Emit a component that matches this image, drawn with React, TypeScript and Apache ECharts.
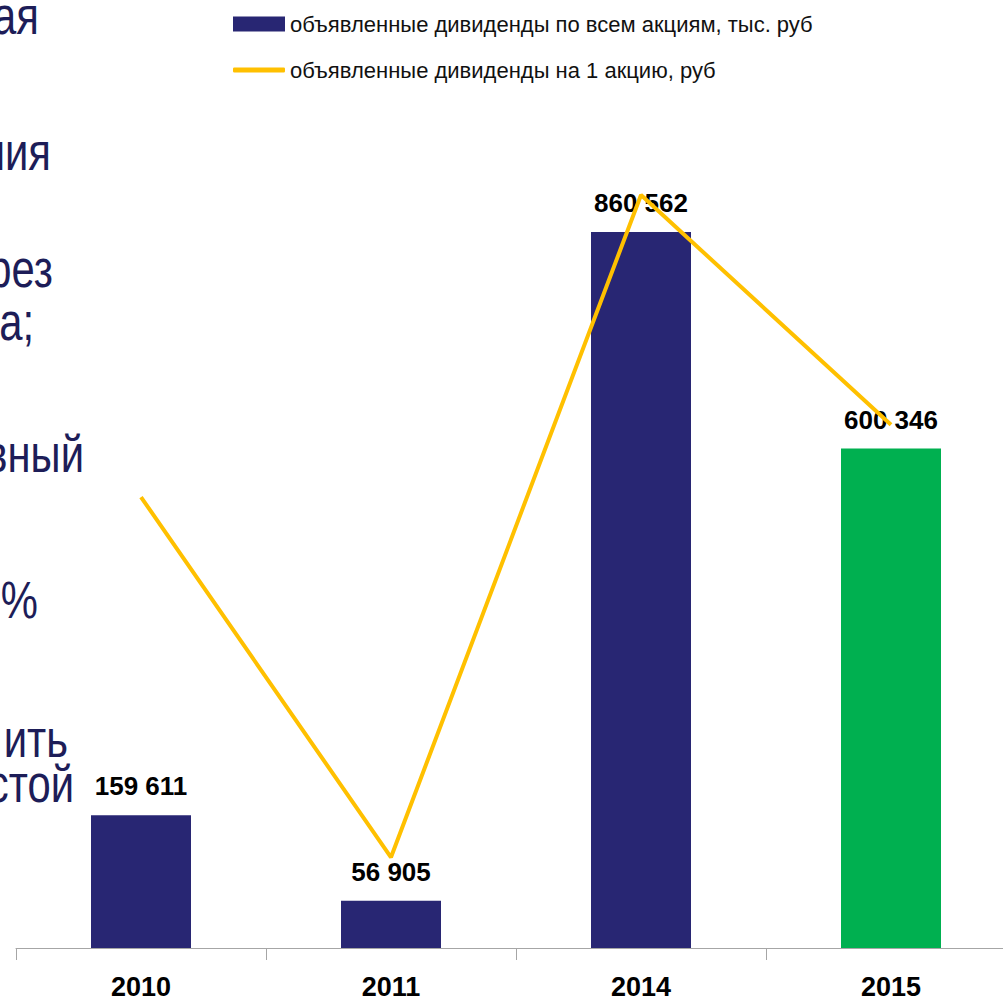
import React, { useEffect, useRef } from "react";
import * as echarts from "echarts";

const categories = ["2010", "2011", "2014", "2015"];
const totalDividends = [159611, 56905, 860562, 600346];
const perShareDividends = [5.42, 1.09, 9.05, 6.29];
const seriesNames = [
  "объявленные дивиденды по всем акциям, тыс. руб",
  "объявленные дивиденды на 1 акцию, руб",
];
const sideTexts = ["ая", "ния", "рез", "а;", "вный", "%", "ить", "стой"];

const FONT = '"Liberation Sans", Arial, sans-serif';
const sideLayout = [
  { right: 39, base: 34 },
  { right: 51, base: 170 },
  { right: 53, base: 287 },
  { right: 34, base: 340 },
  { right: 84, base: 472 },
  { right: 38, base: 618 },
  { right: 68, base: 757 },
  { right: 74, base: 802 },
];

const fmt = (v: number) => String(v).replace(/\B(?=(\d{3})+(?!\d))/g, " ");

export default function App() {
  const ref = useRef<HTMLDivElement>(null);
  useEffect(() => {
    if (!ref.current) return;
    const chart = echarts.init(ref.current, null, { renderer: "svg" });
    const navy = "#282673";
    const green = "#00B050";
    chart.setOption({
      animation: false,
      backgroundColor: "#ffffff",
      legend: [
        {
          data: [seriesNames[0]],
          left: 228,
          top: 8,
          itemWidth: 52,
          itemHeight: 15,
          icon: "rect",
          textStyle: { fontFamily: FONT, fontSize: 22, color: "#111" },
          selectedMode: false,
        },
        {
          data: [seriesNames[1]],
          left: 228,
          top: 54,
          itemWidth: 52,
          itemHeight: 5,
          icon: "roundRect",
          textStyle: { fontFamily: FONT, fontSize: 22, color: "#111" },
          selectedMode: false,
        },
      ],
      grid: { left: 16, right: 0, top: 116, bottom: 52 },
      xAxis: {
        type: "category",
        data: categories,
        axisLine: { lineStyle: { color: "#a6a6a6", width: 1 } },
        axisTick: { show: true, length: 12, lineStyle: { color: "#a6a6a6" } },
        axisLabel: {
          margin: 25,
          fontFamily: FONT,
          fontWeight: "bold",
          fontSize: 27,
          color: "#000",
        },
      },
      yAxis: [
        { type: "value", min: 0, max: 1000000, show: false, splitLine: { show: false } },
        { type: "value", min: 0, max: 10, show: false, splitLine: { show: false } },
      ],
      series: [
        {
          name: seriesNames[0],
          type: "bar",
          barWidth: 100,
          color: navy,
          data: totalDividends.map((v, i) => ({
            value: v,
            itemStyle: { color: i === 3 ? green : navy },
          })),
          label: {
            show: true,
            position: "top",
            distance: 16,
            fontFamily: FONT,
            fontWeight: "bold",
            fontSize: 26,
            color: "#000",
            formatter: (p: any) => fmt(p.value),
          },
        },
        {
          name: seriesNames[1],
          type: "line",
          yAxisIndex: 1,
          color: "#FFC000",
          symbol: "none",
          lineStyle: { width: 4, color: "#FFC000" },
          data: perShareDividends,
          z: 5,
        },
      ],
      graphic: sideTexts.map((t, i) => ({
        type: "text",
        x: sideLayout[i].right,
        y: sideLayout[i].base - 17,
        scaleX: 0.82,
        silent: true,
        style: {
          text: t,
          fill: "#1d1d58",
          font: `51px ${FONT}`,
          textAlign: "right",
          textVerticalAlign: "middle",
        },
      })),
    });
    return () => chart.dispose();
  }, []);
  return (
    <div style={{ position: "fixed", left: 0, top: 0, width: 1003, height: 1000, overflow: "hidden", background: "#fff" }}>
      <div ref={ref} style={{ position: "absolute", left: 0, top: 0, width: 1016, height: 1000 }} />
    </div>
  );
}
